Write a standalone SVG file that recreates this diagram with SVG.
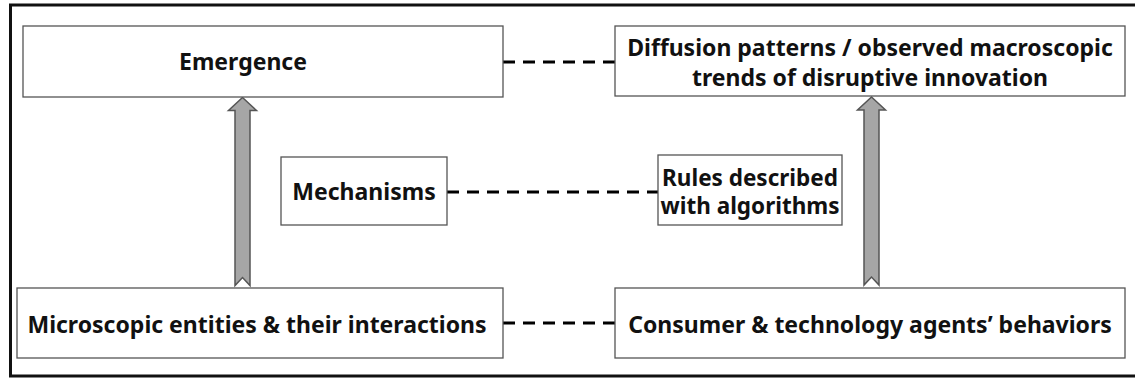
<svg xmlns="http://www.w3.org/2000/svg" width="1135" height="383" viewBox="0 0 1135 383">
  <style>
    .box { fill: #ffffff; stroke: #555555; stroke-width: 1.3; }
    .label { font-family: "Noto Sans", "Open Sans", "Liberation Sans", sans-serif; font-weight: bold; font-size: 23px; fill: #111111; text-anchor: middle; dominant-baseline: central; }
    .dash { stroke: #000000; stroke-width: 3; stroke-dasharray: 12 8; fill: none; }
    .up { fill: #a6a6a6; stroke: #555555; stroke-width: 1.5; stroke-linejoin: miter; }
  </style>
  <defs>
    <!-- block arrow pointing up, tip at origin, notched tail -->
    <path id="upArrow" d="M0 0 L14 13 L7.5 13 L7.5 188 L0 180 L-7.5 188 L-7.5 13 L-14 13 Z"/>
  </defs>

  <!-- outer frame -->
  <rect x="10.5" y="5" width="1140" height="371" fill="#ffffff" stroke="#111111" stroke-width="3"/>

  <g id="connectors">
    <line class="dash" x1="503" y1="62" x2="615" y2="62"/>
    <line class="dash" x1="447" y1="192" x2="658" y2="192"/>
    <line class="dash" x1="503" y1="323" x2="615" y2="323"/>
    <use href="#upArrow" class="up" x="242.5" y="97.5"/>
    <use href="#upArrow" class="up" x="871.5" y="97"/>
  </g>

  <g id="emergence">
    <rect class="box" x="23" y="26" width="480" height="71"/>
    <text class="label" x="243" y="61">Emergence</text>
  </g>

  <g id="diffusion-patterns">
    <rect class="box" x="615" y="26" width="510" height="70"/>
    <text class="label" x="870" y="47">Diffusion patterns / observed macroscopic</text>
    <text class="label" x="870" y="77">trends of disruptive innovation</text>
  </g>

  <g id="mechanisms">
    <rect class="box" x="281" y="157" width="166" height="68"/>
    <text class="label" x="364" y="191">Mechanisms</text>
  </g>

  <g id="rules">
    <rect class="box" x="658" y="155" width="184" height="70"/>
    <text class="label" x="750" y="177" style="font-size:22.5px">Rules described</text>
    <text class="label" x="750" y="205" style="font-size:22.5px">with algorithms</text>
  </g>

  <g id="microscopic-entities">
    <rect class="box" x="17" y="288" width="486" height="70"/>
    <text class="label" x="257" y="324">Microscopic entities &amp; their interactions</text>
  </g>

  <g id="agent-behaviors">
    <rect class="box" x="615" y="288" width="510" height="70"/>
    <text class="label" x="870" y="324">Consumer &amp; technology agents’ behaviors</text>
  </g>
</svg>
